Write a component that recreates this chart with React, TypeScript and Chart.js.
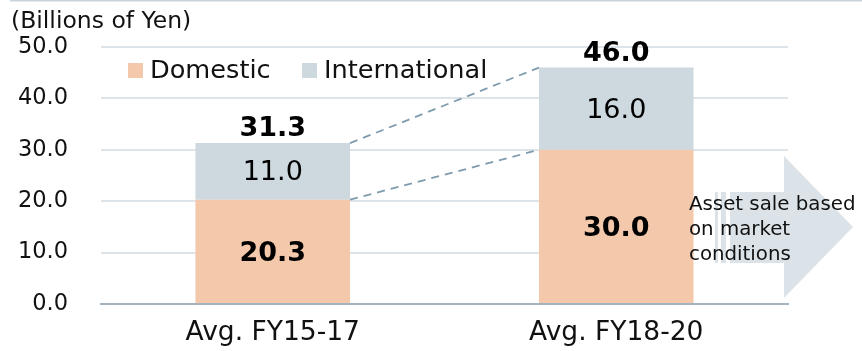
import React, { useEffect, useRef } from "react";
import { Chart, registerables } from "chart.js";

Chart.register(...registerables);

const categories = ["Avg. FY15-17", "Avg. FY18-20"];
const domestic = [20.3, 30.0];
const international = [11.0, 16.0];
const totals = [31.3, 46.0];
const seriesNames = ["Domestic", "International"];
const yTicks = [0, 10, 20, 30, 40, 50];
const unitLabel = "(Billions of Yen)";
const arrowLines = ["Asset sale based", "on market", "conditions"];

const DOM_COLOR = "#f4c8aa";
const INT_COLOR = "#cdd8df";
const FONT = "'DejaVu Sans', Verdana, sans-serif";

const overlay = {
  id: "overlay",
  afterDraw(chart: any) {
    const ctx = chart.ctx;
    const area = chart.chartArea;
    const mDom = chart.getDatasetMeta(0);
    const mInt = chart.getDatasetMeta(1);
    ctx.save();

    // top rule
    ctx.strokeStyle = "#c8d4dc";
    ctx.lineWidth = 1.5;
    ctx.beginPath();
    ctx.moveTo(10, 0.75);
    ctx.lineTo(862, 0.75);
    ctx.stroke();

    // unit label
    ctx.fillStyle = "#111";
    ctx.font = `23.5px ${FONT}`;
    ctx.textAlign = "left";
    ctx.textBaseline = "alphabetic";
    ctx.fillText(unitLabel, 11, 28);

    // legend
    ctx.font = `25.6px ${FONT}`;
    ctx.textBaseline = "alphabetic";
    ctx.fillStyle = DOM_COLOR;
    ctx.fillRect(128, 63, 15, 15);
    ctx.fillStyle = "#111";
    ctx.fillText(seriesNames[0], 150, 78);
    ctx.fillStyle = INT_COLOR;
    ctx.fillRect(302, 63, 15, 15);
    ctx.fillStyle = "#111";
    ctx.fillText(seriesNames[1], 324, 78);

    // dashed connectors
    const b0d = mDom.data[0], b1d = mDom.data[1];
    const b0i = mInt.data[0], b1i = mInt.data[1];
    ctx.strokeStyle = "#7f9bae";
    ctx.lineWidth = 1.8;
    ctx.setLineDash([8, 6]);
    ctx.beginPath();
    ctx.moveTo(b0i.x + b0i.width / 2, b0i.y);
    ctx.lineTo(b1i.x - b1i.width / 2, b1i.y);
    ctx.moveTo(b0d.x + b0d.width / 2, b0d.y);
    ctx.lineTo(b1d.x - b1d.width / 2, b1d.y);
    ctx.stroke();
    ctx.setLineDash([]);

    // white box hiding gridlines behind the arrow note
    ctx.fillStyle = "#ffffff";
    ctx.fillRect(b1d.x + b1d.width / 2 + 0.5, 155, area.right - (b1d.x + b1d.width / 2), 146);

    // arrow
    ctx.fillStyle = "#dbe3e8";
    ctx.fillRect(715, 192, 3, 71);
    ctx.fillRect(721, 192, 5, 71);
    ctx.fillRect(730, 192, 55, 71);
    ctx.beginPath();
    ctx.moveTo(784, 156);
    ctx.lineTo(853, 227);
    ctx.lineTo(784, 298);
    ctx.closePath();
    ctx.fill();

    // arrow text
    ctx.fillStyle = "#111";
    ctx.font = `19.8px ${FONT}`;
    ctx.textAlign = "left";
    ctx.textBaseline = "alphabetic";
    arrowLines.forEach((t, i) => ctx.fillText(t, 689, 210 + i * 25));

    // value labels
    ctx.textAlign = "center";
    for (let i = 0; i < categories.length; i++) {
      const d = mDom.data[i];
      const n = mInt.data[i];
      ctx.fillStyle = "#000";
      ctx.font = `bold 27px ${FONT}`;
      ctx.textBaseline = "middle";
      ctx.fillText(domestic[i].toFixed(1), d.x, (d.y + d.base) / 2 + 3);
      ctx.font = `27px ${FONT}`;
      ctx.fillText(international[i].toFixed(1), n.x, (n.y + n.base) / 2 + 2);
      ctx.font = `bold 27px ${FONT}`;
      ctx.textBaseline = "alphabetic";
      ctx.fillText(totals[i].toFixed(1), n.x, n.y - 7);
    }
    ctx.restore();
  },
};

export default function App() {
  const ref = useRef<HTMLCanvasElement | null>(null);
  useEffect(() => {
    if (!ref.current) return;
    const chart = new Chart(ref.current, {
      type: "bar",
      data: {
        labels: categories,
        datasets: [
          {
            label: seriesNames[0],
            data: domestic,
            backgroundColor: DOM_COLOR,
            barPercentage: 0.9,
            categoryPercentage: 0.5,
          },
          {
            label: seriesNames[1],
            data: international,
            backgroundColor: INT_COLOR,
            barPercentage: 0.9,
            categoryPercentage: 0.5,
          },
        ],
      },
      options: {
        responsive: false,
        animation: false,
        layout: { padding: { left: 0, top: 47, right: 74, bottom: 0 } },
        plugins: { legend: { display: false }, tooltip: { enabled: false } },
        scales: {
          x: {
            stacked: true,
            grid: { display: false, drawTicks: false },
            border: { display: true, color: "#a3b4c0", width: 2 },
            ticks: {
              color: "#111",
              font: { family: FONT, size: 26.5 },
              padding: 13,
            },
            afterFit: (s: any) => {
              s.height = 47;
            },
          },
          y: {
            stacked: true,
            min: 0,
            max: 50,
            afterBuildTicks: (s: any) => {
              s.ticks = yTicks.map((v) => ({ value: v }));
            },
            grid: { color: "#dde4e9", lineWidth: 2, drawTicks: false },
            border: { display: false },
            ticks: {
              color: "#111",
              font: { family: FONT, size: 22.5 },
              padding: 33,
              callback: (v: any) => Number(v).toFixed(1),
            },
            afterFit: (s: any) => {
              s.width = 101;
            },
          },
        },
      },
      plugins: [overlay],
    });
    return () => chart.destroy();
  }, []);
  return (
    <div style={{ position: "fixed", left: 0, top: 0, width: 862, height: 351, background: "#fff" }}>
      <canvas ref={ref} width={862} height={351} />
    </div>
  );
}
